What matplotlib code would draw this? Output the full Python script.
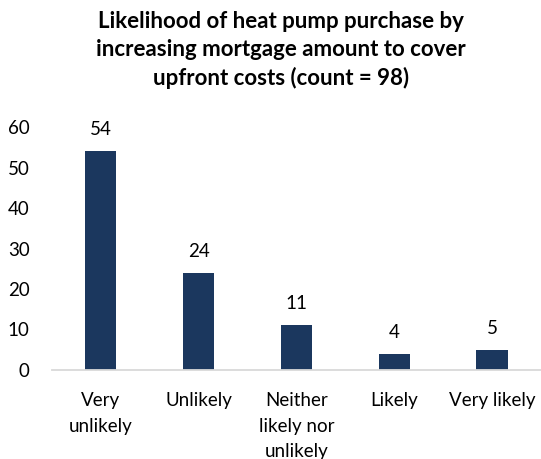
import matplotlib
matplotlib.use("Agg")
import matplotlib.pyplot as plt
import numpy as np

# survey responses
categories = ["Very\nunlikely", "Unlikely", "Neither\nlikely nor\nunlikely", "Likely", "Very likely"]
counts = [54, 24, 11, 4, 5]

plt.rcParams['font.family'] = ['Lato', 'DejaVu Sans']

fig = plt.figure(figsize=(5.41, 4.59), dpi=100)
ax = fig.add_axes([0.096, 0.194, 0.904, 0.529])

x = np.arange(len(categories))
bars = ax.bar(x, counts, width=0.32, color='#1b375e')

for xi, v in zip(x, counts):
    ax.text(xi, v + 3.2, str(v), ha='center', va='bottom', fontsize=13.5, color='#000000')

ax.set_xlim(-0.5, len(categories) - 0.5)
ax.set_ylim(0, 60)
ax.set_yticks(range(0, 61, 10))
ax.set_xticks(x)
ax.set_xticklabels(categories, fontsize=13.5, linespacing=1.6)
ax.tick_params(axis='y', labelsize=13.5, length=0, pad=16)
ax.tick_params(axis='x', length=0, pad=16)

for s in ['top', 'right', 'left']:
    ax.spines[s].set_visible(False)
ax.spines['bottom'].set_color('#d9d9d9')
ax.spines['bottom'].set_linewidth(1.3)

fig.text(0.52, 0.975, "Likelihood of heat pump purchase by\nincreasing mortgage amount to cover\nupfront costs (count = 98)",
         ha='center', va='top', fontsize=16, fontweight='bold', linespacing=1.38)

fig.savefig("out.png", dpi=100)
